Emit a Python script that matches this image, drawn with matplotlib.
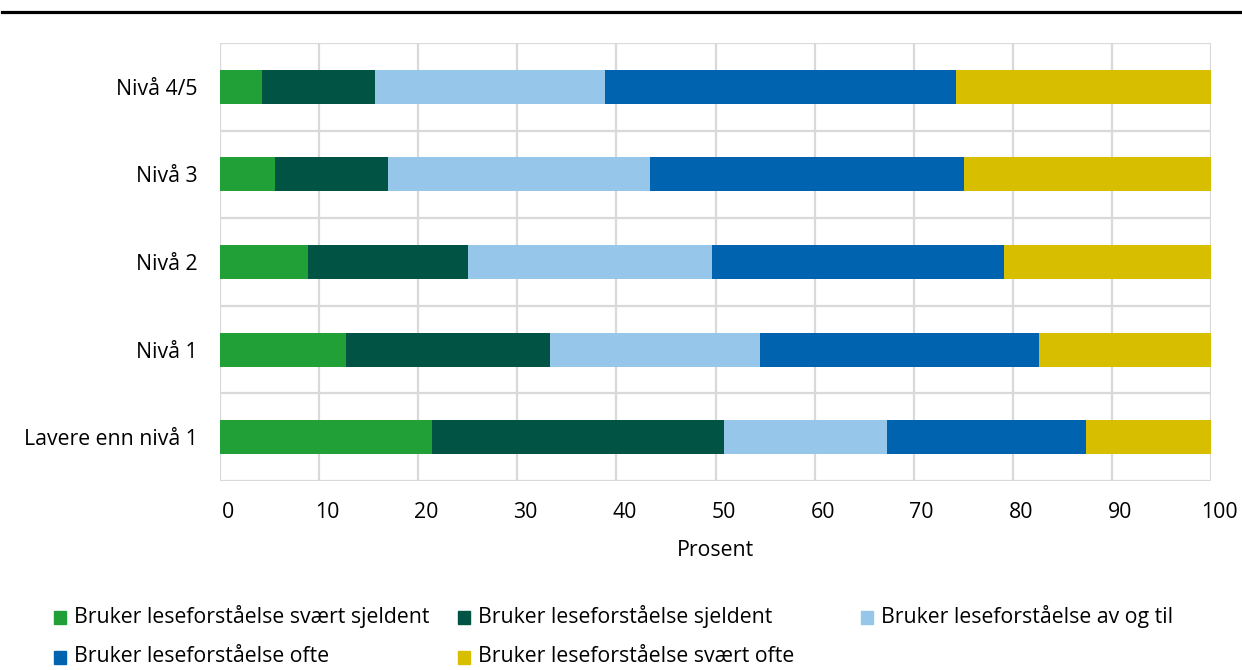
import matplotlib.pyplot as plt
import matplotlib.transforms as mtransforms
from matplotlib.lines import Line2D
from matplotlib.patches import Rectangle
import numpy as np

plt.rcParams['font.family'] = ['Open Sans', 'DejaVu Sans']

# Nivåer (nederst først)
nivaa = ['Lavere enn nivå 1', 'Nivå 1', 'Nivå 2', 'Nivå 3', 'Nivå 4/5']

serier = ['Bruker leseforståelse svært sjeldent',
          'Bruker leseforståelse sjeldent',
          'Bruker leseforståelse av og til',
          'Bruker leseforståelse ofte',
          'Bruker leseforståelse svært ofte']

svaert_sjeldent = [21.4, 12.7, 8.9, 5.5, 4.2]
sjeldent        = [29.5, 20.6, 16.1, 11.5, 11.4]
av_og_til       = [16.4, 21.2, 24.6, 26.4, 23.3]
ofte            = [20.1, 28.1, 29.5, 31.7, 35.4]
svaert_ofte     = [12.6, 17.4, 20.9, 24.9, 25.7]

farger = ['#22a038', '#015444', '#96c7eb', '#0063af', '#d7bf00']

FS = 15.3

fig = plt.figure(figsize=(12.42, 6.70), dpi=100)
ax = fig.add_axes([220/1242, 1-481/670, (1211-220)/1242, (481-43)/670])

y = np.arange(len(nivaa))
venstre = np.zeros(len(nivaa))
for verdier, farge in zip([svaert_sjeldent, sjeldent, av_og_til, ofte, svaert_ofte], farger):
    ax.barh(y, verdier, left=venstre, height=0.39, color=farge, zorder=3)
    venstre += np.array(verdier)

ax.set_xlim(0, 100)
ax.set_ylim(-0.5, len(nivaa) - 0.5)
ax.set_xticks(np.arange(0, 101, 10))
ax.set_yticks(y)
ax.set_yticklabels(nivaa)
ax.set_yticks(np.arange(-0.5, len(nivaa), 1), minor=True)

ax.grid(axis='x', which='major', color='#d9d9d9', lw=1.6, zorder=0)
ax.grid(axis='y', which='minor', color='#d9d9d9', lw=1.6, zorder=0)
ax.grid(axis='y', which='major', visible=False)
for s in ax.spines.values():
    s.set_visible(False)
ax.tick_params(axis='both', which='both', length=0, labelsize=FS, colors='black')
ax.tick_params(axis='x', pad=15)
ax.tick_params(axis='y', pad=16)

# tallene på x-aksen står litt til høyre for linjene
forskyv = mtransforms.ScaledTranslation(8/100, 0, fig.dpi_scale_trans)
for lbl in ax.get_xticklabels():
    lbl.set_transform(lbl.get_transform() + forskyv)

ax.set_xlabel('Prosent', fontsize=FS, labelpad=12)

# svart strek øverst
fig.add_artist(Line2D([0.0015, 1.0], [1-11.5/670, 1-11.5/670], color='black', lw=2.3,
                      transform=fig.transFigure))

# forklaring
kol_x = [54, 458, 861]
rad_y = [617, 657]
for i, (navn, farge) in enumerate(zip(serier, farger)):
    px = kol_x[i % 3]
    py = rad_y[i // 3]
    fig.add_artist(Rectangle((px/1242, 1-(py+7)/670), 12/1242, 13/670,
                             color=farge, transform=fig.transFigure))
    fig.text((px+20)/1242, 1-py/670, navn, fontsize=FS, va='center', ha='left')

fig.savefig('out.png', dpi=100)
